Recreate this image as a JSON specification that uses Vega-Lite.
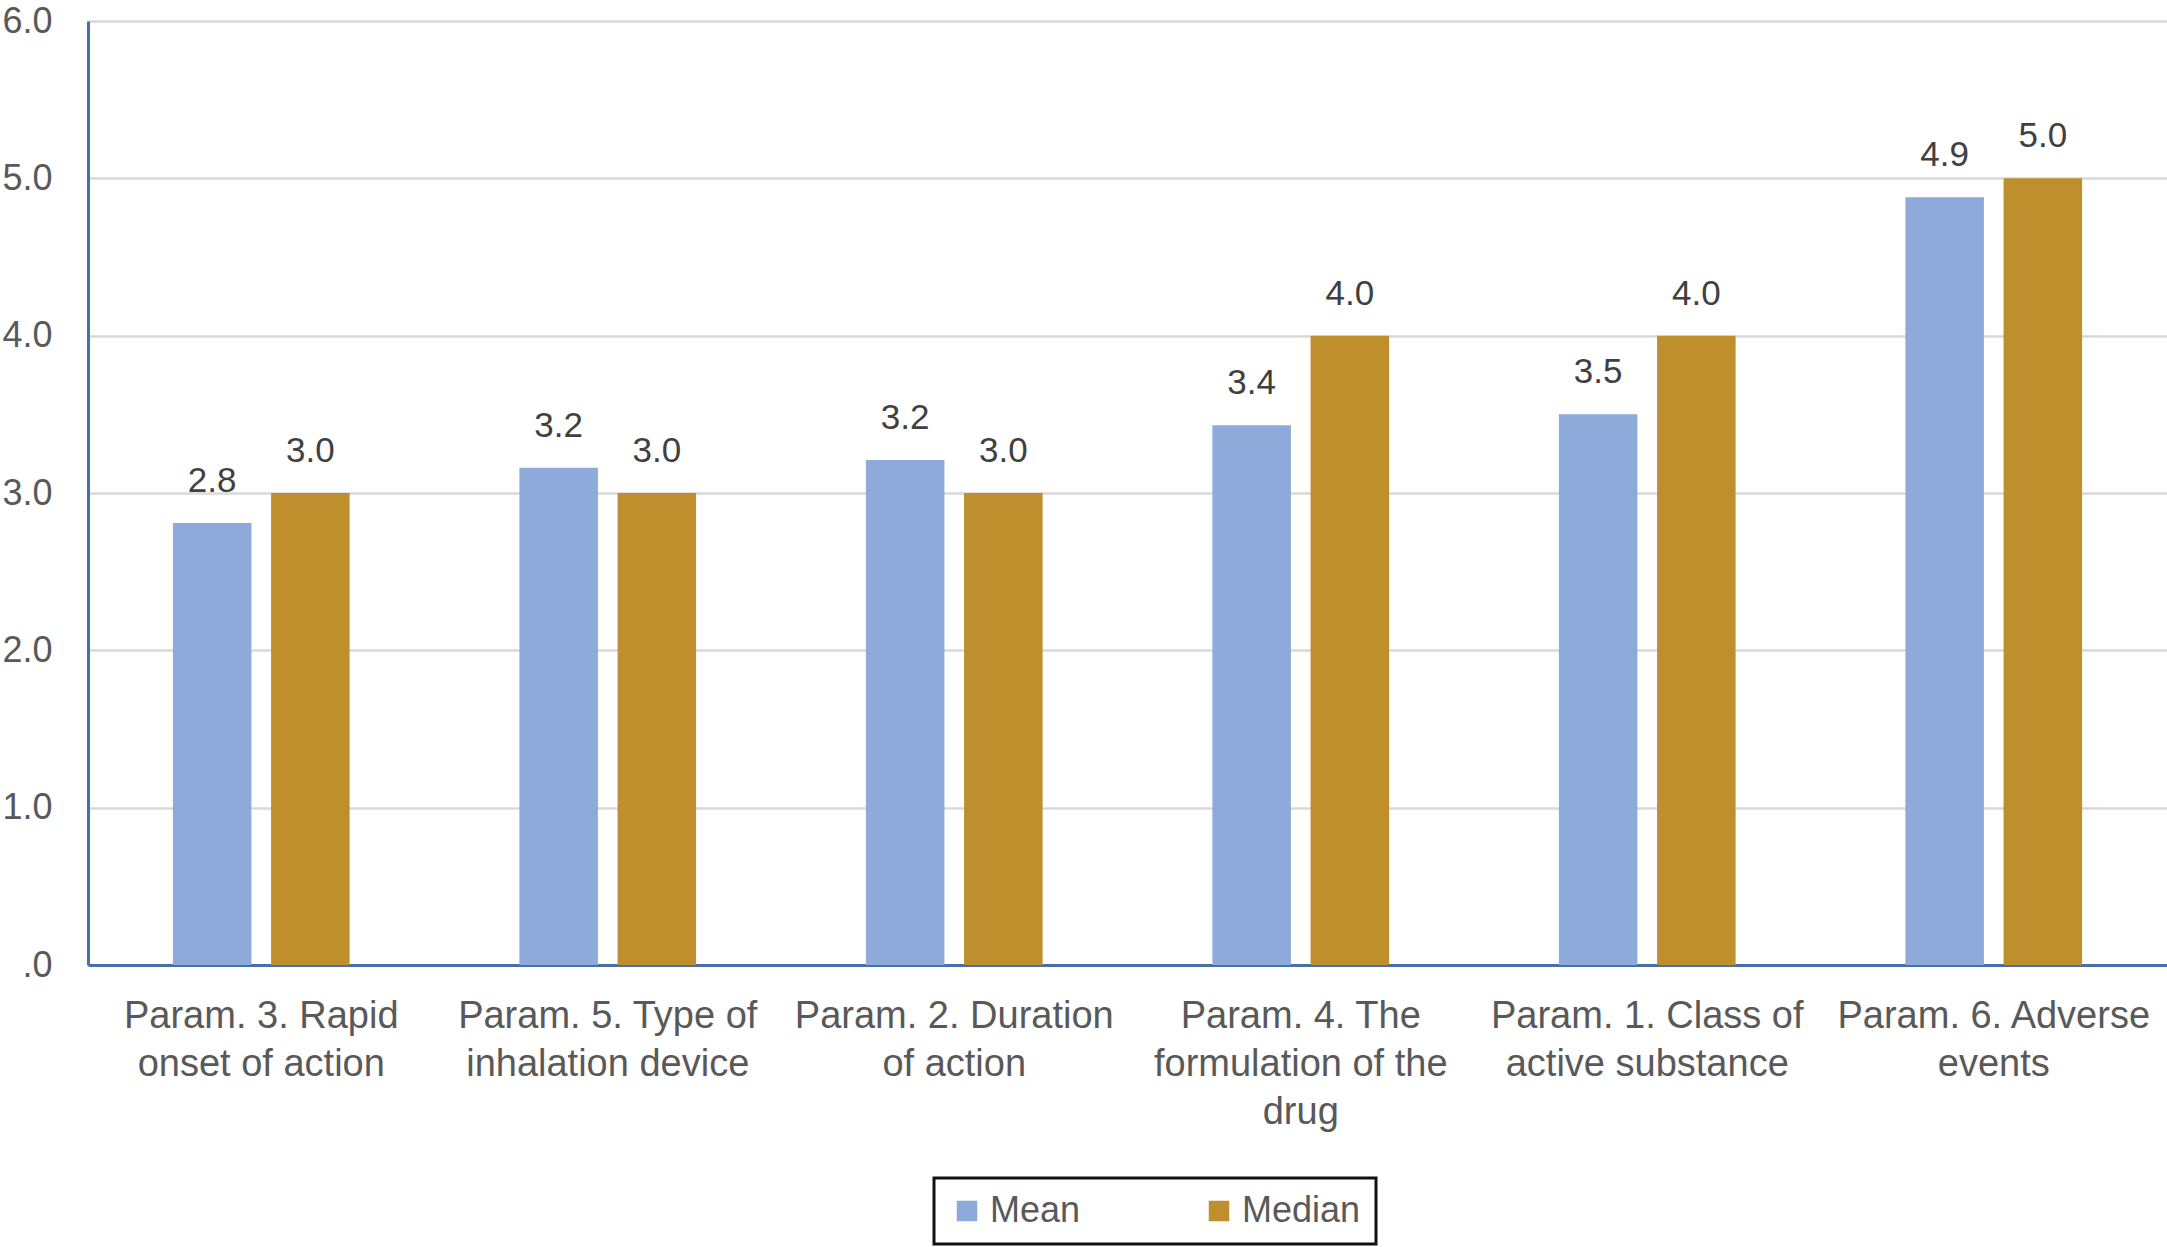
{
  "$schema": "https://vega.github.io/schema/vega-lite/v6.json",
  "autosize": {"type": "none"},
  "width": 2079,
  "height": 944,
  "padding": {"left": 88, "top": 21, "right": 0, "bottom": 282},
  "background": "white",
  "data": {
    "values": [
      {"param": "Param. 3. Rapid onset of action", "measure": "Mean", "value": 2.81},
      {"param": "Param. 3. Rapid onset of action", "measure": "Median", "value": 3.0},
      {"param": "Param. 5. Type of inhalation device", "measure": "Mean", "value": 3.16},
      {"param": "Param. 5. Type of inhalation device", "measure": "Median", "value": 3.0},
      {"param": "Param. 2. Duration of action", "measure": "Mean", "value": 3.21},
      {"param": "Param. 2. Duration of action", "measure": "Median", "value": 3.0},
      {"param": "Param. 4. The formulation of the drug", "measure": "Mean", "value": 3.43},
      {"param": "Param. 4. The formulation of the drug", "measure": "Median", "value": 4.0},
      {"param": "Param. 1. Class of active substance", "measure": "Mean", "value": 3.5},
      {"param": "Param. 1. Class of active substance", "measure": "Median", "value": 4.0},
      {"param": "Param. 6. Adverse events", "measure": "Mean", "value": 4.88},
      {"param": "Param. 6. Adverse events", "measure": "Median", "value": 5.0}
    ]
  },
  "encoding": {
    "x": {
      "field": "param",
      "type": "nominal",
      "sort": null,
      "scale": {"paddingInner": 0.49, "paddingOuter": 0.245},
      "axis": {
        "title": null,
        "labelAngle": 0,
        "labelFont": "Liberation Sans",
        "labelFontSize": 38,
        "labelColor": "#595959",
        "labelPadding": 32,
        "labelLineHeight": 48,
        "labelBaseline": "top",
        "labelLimit": 420,
        "labelDx": 8,
        "ticks": false,
        "domainColor": "#4a6fa8",
        "domainWidth": 3,
        "labelExpr": "datum.value == 'Param. 3. Rapid onset of action' ? ['Param. 3. Rapid', 'onset of action'] : datum.value == 'Param. 5. Type of inhalation device' ? ['Param. 5. Type of', 'inhalation device'] : datum.value == 'Param. 2. Duration of action' ? ['Param. 2. Duration', 'of action'] : datum.value == 'Param. 4. The formulation of the drug' ? ['Param. 4. The', 'formulation of the', 'drug'] : datum.value == 'Param. 1. Class of active substance' ? ['Param. 1. Class of', 'active substance'] : ['Param. 6. Adverse', 'events']"
      }
    },
    "xOffset": {
      "field": "measure",
      "type": "nominal",
      "scale": {"paddingInner": 0.2, "paddingOuter": 0}
    },
    "y": {
      "field": "value",
      "type": "quantitative",
      "scale": {"domain": [0, 6], "nice": false},
      "axis": {
        "title": null,
        "values": [0, 1, 2, 3, 4, 5, 6],
        "labelExpr": "datum.value == 0 ? '.0' : format(datum.value, '.1f')",
        "labelFont": "Liberation Sans",
        "labelFontSize": 36,
        "labelColor": "#595959",
        "labelPadding": 36,
        "labelFlush": false,
        "ticks": false,
        "domainColor": "#4a6fa8",
        "domainWidth": 3,
        "grid": true,
        "gridColor": "#d9d9d9",
        "gridWidth": 2.7
      }
    }
  },
  "layer": [
    {
      "mark": {"type": "bar"},
      "encoding": {
        "color": {
          "field": "measure",
          "type": "nominal",
          "scale": {"domain": ["Mean", "Median"], "range": ["#8eaadb", "#bf8f2e"]},
          "legend": {
            "title": null,
            "orient": "none",
            "legendX": 846,
            "legendY": 1157,
            "direction": "horizontal",
            "symbolType": "square",
            "symbolSize": 420,
            "symbolStrokeWidth": 0,
            "labelFont": "Liberation Sans",
            "labelFontSize": 36,
            "labelColor": "#595959",
            "labelOffset": 5,
            "columnPadding": 120,
            "padding": 15,
            "strokeColor": "#111111"
          }
        }
      }
    },
    {
      "mark": {
        "type": "text",
        "baseline": "alphabetic",
        "dy": -31,
        "font": "Liberation Sans",
        "fontSize": 35,
        "color": "#404040"
      },
      "encoding": {
        "text": {"field": "value", "type": "quantitative", "format": ".1f"}
      }
    }
  ],
  "config": {
    "view": {"stroke": null},
    "legend": {"strokeWidth": 3}
  }
}
